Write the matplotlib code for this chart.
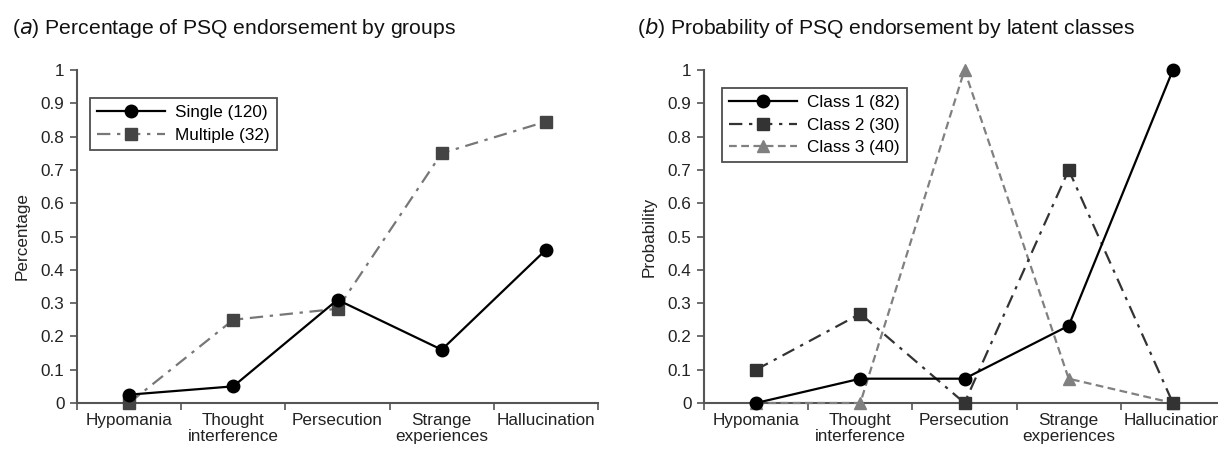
import matplotlib
matplotlib.use("Agg")
import matplotlib.pyplot as plt
import numpy as np

plt.rcParams['font.family'] = ['Liberation Sans', 'DejaVu Sans']

categories = ["Hypomania", "Thought\ninterference", "Persecution", "Strange\nexperiences", "Hallucination"]
yticks = [0, 0.1, 0.2, 0.3, 0.4, 0.5, 0.6, 0.7, 0.8, 0.9, 1]
yticklabels = ["0", "0.1", "0.2", "0.3", "0.4", "0.5", "0.6", "0.7", "0.8", "0.9", "1"]

single = [0.025, 0.05, 0.31, 0.16, 0.46]
multiple = [0.0, 0.25, 0.283, 0.75, 0.845]

class1 = [0.0, 0.073, 0.073, 0.232, 1.0]
class2 = [0.1, 0.268, 0.0, 0.70, 0.0]
class3 = [0.0, 0.0, 1.0, 0.073, 0.0]

fig = plt.figure(figsize=(12.18, 4.49), dpi=100)
W, H = 1218, 449
axA = fig.add_axes([77 / W, 1 - 403 / H, 521 / W, 333 / H])
axB = fig.add_axes([704 / W, 1 - 403 / H, 521 / W, 333 / H])

x = np.arange(len(categories))
fs = 12.3
txt_col = '#222222'
axis_col = '#555555'

def style(ax, ylabel):
    ax.set_xlim(-0.5, len(categories) - 0.5)
    ax.set_ylim(0, 1)
    ax.set_yticks(yticks)
    ax.set_yticklabels(yticklabels, fontsize=fs, color=txt_col)
    ax.set_xticks(x)
    ax.set_xticklabels(categories, fontsize=fs, color=txt_col, linespacing=1.1)
    ax.tick_params(axis='x', length=0, pad=7)
    ax.set_xticks(np.arange(-0.5, len(categories) + 0.5, 1), minor=True)
    ax.tick_params(axis='x', which='minor', length=5, width=1.2, color=axis_col, direction='out')
    ax.tick_params(axis='y', length=5, width=1.2, color=axis_col, direction='out', pad=4)
    for s in ['top', 'right']:
        ax.spines[s].set_visible(False)
    for s in ['left', 'bottom']:
        ax.spines[s].set_color(axis_col)
        ax.spines[s].set_linewidth(1.5)
    ax.set_ylabel(ylabel, fontsize=fs, color=txt_col, labelpad=8)

style(axA, "Percentage")
style(axB, "Probability")

lw = 1.6
ms = 9
axA.plot(x, single, color='black', lw=lw, marker='o', ms=ms, mfc='black', mec='black',
         label='Single (120)', clip_on=False, zorder=4)
axA.plot(x, multiple, color='#777777', lw=lw, ls=(0, (6, 3, 1.5, 3)), marker='s', ms=ms - 0.5,
         mfc='#444444', mec='#444444', label='Multiple (32)', clip_on=False, zorder=3)
legA = axA.legend(loc='upper left', bbox_to_anchor=(13 / 521, 305 / 333), borderaxespad=0,
                  fontsize=fs, frameon=True, fancybox=False, handlelength=4.0, borderpad=0.4,
                  labelspacing=0.5, handletextpad=0.6)
legA.get_frame().set_edgecolor('#222222')
legA.get_frame().set_linewidth(1.3)

axB.plot(x, class1, color='black', lw=lw, marker='o', ms=ms, mfc='black', mec='black',
         label='Class 1 (82)', clip_on=False, zorder=5)
axB.plot(x, class2, color='#333333', lw=lw, ls=(0, (6, 3, 1.5, 3)), marker='s', ms=ms - 0.5,
         mfc='#333333', mec='#333333', label='Class 2 (30)', clip_on=False, zorder=4)
axB.plot(x, class3, color='#808080', lw=lw, ls=(0, (3.5, 2)), marker='^', ms=ms,
         mfc='#808080', mec='#808080', label='Class 3 (40)', clip_on=False, zorder=3)
legB = axB.legend(loc='upper left', bbox_to_anchor=(18 / 521, 315 / 333), borderaxespad=0,
                  fontsize=fs, frameon=True, fancybox=False, handlelength=4.0, borderpad=0.4,
                  labelspacing=0.45, handletextpad=0.6)
legB.get_frame().set_edgecolor('#222222')
legB.get_frame().set_linewidth(1.3)

fig.text(12 / W, 1 - 28 / H, r"($\it{a}$) Percentage of PSQ endorsement by groups",
         fontsize=15.2, va='center', ha='left', color='#111111')
fig.text(637 / W, 1 - 28 / H, r"($\it{b}$) Probability of PSQ endorsement by latent classes",
         fontsize=15.2, va='center', ha='left', color='#111111')

fig.savefig("out.png", dpi=100)
